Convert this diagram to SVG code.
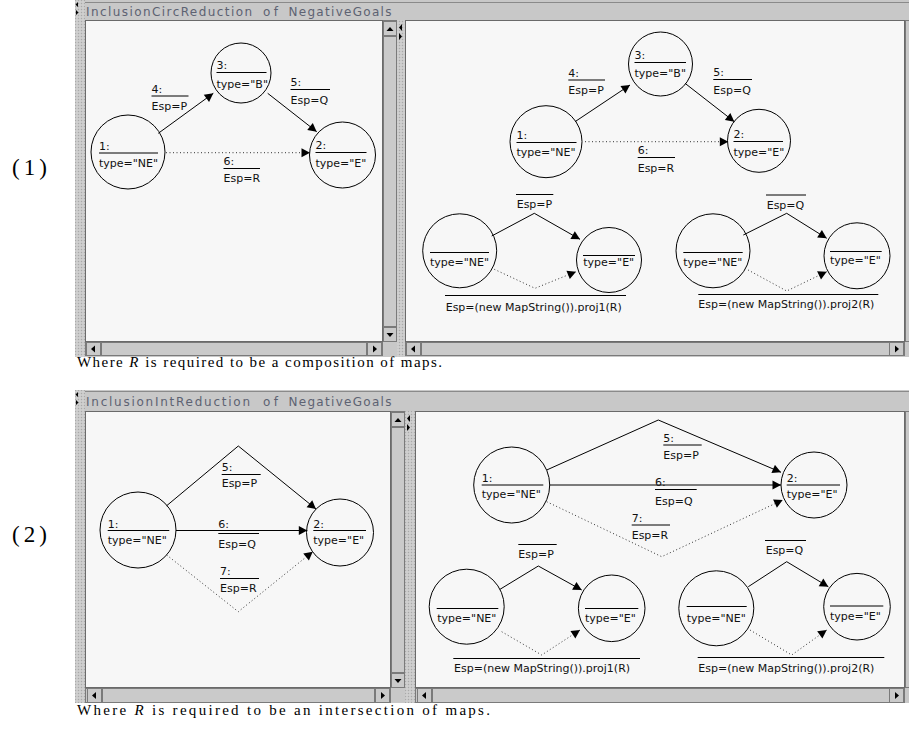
<svg xmlns="http://www.w3.org/2000/svg" width="909" height="731" viewBox="0 0 909 731">
<style>
.win{fill:#c8c8c8}
.pan{fill:#f7f7f7;stroke:#6a6a6a;stroke-width:1}
.spl{fill:url(#dots)}
.trk{fill:#c8c8c8;stroke:#7a7a7a;stroke-width:1}
.btn{fill:#cacaca;stroke:#7a7a7a;stroke-width:1}
.arr{fill:#000}
.ttl{font-family:"DejaVu Sans",sans-serif;font-size:12px;fill:#5d6272}
.cap{font-family:"Liberation Serif",serif;font-size:15px;fill:#000}
.num{font-family:"Liberation Serif",serif;font-size:23px;fill:#000}
.t{font-family:"DejaVu Sans",sans-serif;font-size:11px;fill:#111}
.c{fill:none;stroke:#000;stroke-width:1}
.u{stroke:#000;stroke-width:1}
.s{fill:none;stroke:#000;stroke-width:1;marker-end:url(#ah)}
.d{fill:none;stroke:#333;stroke-width:1;stroke-dasharray:1 2.5;marker-end:url(#ah)}
</style>
<defs>
<pattern id="dots" width="3" height="3" patternUnits="userSpaceOnUse">
<rect width="3" height="3" fill="#c9c9c9"/>
<rect x="0" y="0" width="1" height="1" fill="#a9a9a9"/>
<rect x="1.5" y="1.5" width="1" height="1" fill="#e2e2e2"/>
</pattern>
<marker id="ah" markerWidth="10" markerHeight="10" refX="9" refY="5" orient="auto" markerUnits="userSpaceOnUse">
<path d="M0.5,0.5 L9,5 L0.5,9.5 Z" fill="#000"/>
</marker>
</defs>
<rect width="909" height="731" fill="#ffffff"/>

<!-- ================= Window 1 chrome ================= -->
<g id="window1">
<rect class="win" x="75" y="0" width="834" height="357"/>
<line x1="85" y1="2.5" x2="909" y2="2.5" stroke="#8a8a8a"/>
<rect class="spl" x="75" y="0" width="10" height="357"/>
<path class="arr" d="M78,2 L75.5,4.5 L78,7 Z M76,10 L78.5,12.5 L76,15 Z"/>
<text class="ttl"><tspan x="86" y="15.5" textLength="166" lengthAdjust="spacing">InclusionCircReduction</tspan><tspan x="263" y="15.5" textLength="15" lengthAdjust="spacing">of</tspan><tspan x="288.5" y="15.5" textLength="103" lengthAdjust="spacing">NegativeGoals</tspan></text>
<rect class="pan" x="85.5" y="20.5" width="297" height="321"/>
<rect class="trk" x="383.5" y="20.5" width="13" height="321"/>
<rect class="btn" x="383.5" y="21.5" width="13" height="14"/>
<path class="arr" d="M386.5,31 L393.5,31 L390,27 Z"/>
<rect class="btn" x="383.5" y="36.5" width="13" height="290"/>
<rect class="btn" x="383.5" y="327.5" width="13" height="14"/>
<path class="arr" d="M386.5,333 L393.5,333 L390,337 Z"/>
<rect class="trk" x="85.5" y="342.5" width="297" height="13"/>
<rect class="btn" x="86.5" y="342.5" width="14" height="13"/>
<path class="arr" d="M95,345.5 L91,349 L95,352.5 Z"/>
<rect class="btn" x="101.5" y="342.5" width="265" height="13"/>
<rect class="btn" x="367.5" y="342.5" width="14" height="13"/>
<path class="arr" d="M373,345.5 L377,349 L373,352.5 Z"/>
<rect class="spl" x="397" y="20" width="8" height="337"/>
<path class="arr" d="M402,24 L399,27.5 L402,31 Z M399,33 L402,36.5 L399,40 Z"/>
<rect class="pan" x="405.5" y="20.5" width="499" height="321"/>
<rect class="trk" x="905.5" y="20.5" width="5" height="321"/>
<rect class="trk" x="405.5" y="342.5" width="499" height="13"/>
<rect class="btn" x="406.5" y="342.5" width="14" height="13"/>
<path class="arr" d="M415,345.5 L411,349 L415,352.5 Z"/>
<rect class="btn" x="421.5" y="342.5" width="468" height="13"/>
<rect class="btn" x="889.5" y="342.5" width="14" height="13"/>
<path class="arr" d="M895,345.5 L899,349 L895,352.5 Z"/>
</g>

<!-- ================= Window 2 chrome ================= -->
<g id="window2">
<rect class="win" x="75" y="390" width="834" height="313"/>
<line x1="85" y1="391.5" x2="909" y2="391.5" stroke="#8a8a8a"/>
<rect class="spl" x="75" y="390" width="10" height="313"/>
<path class="arr" d="M78,392 L75.5,394.5 L78,397 Z M76,400 L78.5,402.5 L76,405 Z"/>
<text class="ttl"><tspan x="86" y="405.5" textLength="164" lengthAdjust="spacing">InclusionIntReduction</tspan><tspan x="263" y="405.5" textLength="15" lengthAdjust="spacing">of</tspan><tspan x="288.5" y="405.5" textLength="103" lengthAdjust="spacing">NegativeGoals</tspan></text>
<rect class="pan" x="85.5" y="411.5" width="305" height="276"/>
<rect class="trk" x="391.5" y="411.5" width="13" height="276"/>
<rect class="btn" x="391.5" y="412.5" width="13" height="14"/>
<path class="arr" d="M394.5,422 L401.5,422 L398,418 Z"/>
<rect class="btn" x="391.5" y="427.5" width="13" height="245"/>
<rect class="btn" x="391.5" y="673.5" width="13" height="14"/>
<path class="arr" d="M394.5,679 L401.5,679 L398,683 Z"/>
<rect class="trk" x="85.5" y="688.5" width="305" height="14"/>
<rect class="btn" x="87.5" y="688.5" width="14" height="14"/>
<path class="arr" d="M96,692 L92,695.5 L96,699 Z"/>
<rect class="btn" x="102.5" y="688.5" width="272" height="14"/>
<rect class="btn" x="375.5" y="688.5" width="14" height="14"/>
<path class="arr" d="M381,692 L385,695.5 L381,699 Z"/>
<rect class="spl" x="405" y="411" width="10" height="292"/>
<path class="arr" d="M410,415 L407,418.5 L410,422 Z M407,424 L410,427.5 L407,431 Z"/>
<rect class="pan" x="415.5" y="411.5" width="489" height="276"/>
<rect class="trk" x="905.5" y="411.5" width="5" height="276"/>
<rect class="trk" x="415.5" y="688.5" width="489" height="14"/>
<rect class="btn" x="417.5" y="688.5" width="14" height="14"/>
<path class="arr" d="M426,692 L422,695.5 L426,699 Z"/>
<rect class="btn" x="432.5" y="688.5" width="457" height="14"/>
<rect class="btn" x="889.5" y="688.5" width="14" height="14"/>
<path class="arr" d="M895,692 L899,695.5 L895,699 Z"/>
</g>

<!-- ================= Labels / captions ================= -->
<text class="num" x="12" y="175" textLength="35" lengthAdjust="spacing">(1)</text>
<text class="num" x="12" y="542" textLength="35" lengthAdjust="spacing">(2)</text>
<text class="cap" x="77" y="367" textLength="365" lengthAdjust="spacing">Where <tspan font-style="italic">R</tspan> is required to be a composition of maps.</text>
<text class="cap" x="77" y="715" textLength="413" lengthAdjust="spacing">Where <tspan font-style="italic">R</tspan> is required to be an intersection of maps.</text>

<!-- ================= Diagram 1 left ================= -->
<g id="d1L-nodes">
<g id="d1L-n1"><circle class="c" cx="128" cy="152" r="37"/><text class="t" x="99" y="149.5">1:</text><line class="u" x1="99" y1="153" x2="158" y2="153"/><text class="t" x="99" y="166.5">type="NE"</text></g>
<g id="d1L-n3"><circle class="c" cx="241" cy="73" r="30"/><text class="t" x="216.5" y="69">3:</text><line class="u" x1="216.5" y1="72.5" x2="266.5" y2="72.5"/><text class="t" x="216.5" y="87.5">type="B"</text></g>
<g id="d1L-n2"><circle class="c" cx="342.5" cy="155" r="33"/><text class="t" x="315.5" y="149">2:</text><line class="u" x1="315.5" y1="152.5" x2="366.5" y2="152.5"/><text class="t" x="315.5" y="166.5">type="E"</text></g>
</g>
<g id="d1L-edges">
<path class="s" d="M158.3,133.3 L213.3,93.3"/>
<text class="t" x="151.5" y="93">4:</text><line class="u" x1="151.5" y1="96" x2="188.5" y2="96"/><text class="t" x="151.5" y="110">Esp=P</text>
<path class="s" d="M267.7,93.3 L316.7,131.7"/>
<text class="t" x="290.5" y="86">5:</text><line class="u" x1="290.5" y1="89.5" x2="330" y2="89.5"/><text class="t" x="290.5" y="103.5">Esp=Q</text>
<path class="d" d="M166,152.7 L310,152.7"/>
<text class="t" x="223.5" y="165">6:</text><line class="u" x1="223.5" y1="168.5" x2="260" y2="168.5"/><text class="t" x="223.5" y="182">Esp=R</text>
</g>

<!-- ================= Diagram 1 right ================= -->
<g id="d1R-nodes">
<g id="d1R-n1"><circle class="c" cx="546" cy="141.7" r="36"/><text class="t" x="516.5" y="138.5">1:</text><line class="u" x1="516.5" y1="142.5" x2="576.5" y2="142.5"/><text class="t" x="516.5" y="155.5">type="NE"</text></g>
<g id="d1R-n3"><circle class="c" cx="660.5" cy="64" r="32"/><text class="t" x="634.5" y="59">3:</text><line class="u" x1="634.5" y1="62.5" x2="686" y2="62.5"/><text class="t" x="634.5" y="76.5">type="B"</text></g>
<g id="d1R-n2"><circle class="c" cx="759" cy="140.8" r="31.5"/><text class="t" x="733.5" y="138">2:</text><line class="u" x1="733.5" y1="141.5" x2="783" y2="141.5"/><text class="t" x="733.5" y="155.5">type="E"</text></g>
<g id="d1R-a1"><circle class="c" cx="459.7" cy="250.8" r="37"/><line class="u" x1="430" y1="252.5" x2="489" y2="252.5"/><text class="t" x="430" y="266">type="NE"</text></g>
<g id="d1R-a2"><circle class="c" cx="609" cy="260" r="32.5"/><line class="u" x1="583" y1="255.5" x2="635" y2="255.5"/><text class="t" x="583.3" y="266">type="E"</text></g>
<g id="d1R-b1"><circle class="c" cx="713" cy="250.8" r="37"/><line class="u" x1="683.3" y1="252.5" x2="742.7" y2="252.5"/><text class="t" x="683.3" y="266">type="NE"</text></g>
<g id="d1R-b2"><circle class="c" cx="857" cy="255.8" r="33"/><line class="u" x1="830" y1="251.5" x2="881.7" y2="251.5"/><text class="t" x="830" y="264">type="E"</text></g>
</g>
<g id="d1R-edges">
<path class="s" d="M575,121.7 L630,85"/>
<text class="t" x="568.3" y="76.5">4:</text><line class="u" x1="568.3" y1="80" x2="605" y2="80"/><text class="t" x="568.3" y="93.5">Esp=P</text>
<path class="s" d="M685,83.3 L734.3,121.7"/>
<text class="t" x="713.3" y="76">5:</text><line class="u" x1="713.3" y1="79.5" x2="752" y2="79.5"/><text class="t" x="713.3" y="94">Esp=Q</text>
<path class="d" d="M585,141.7 L728.3,141.7"/>
<text class="t" x="637.7" y="154">6:</text><line class="u" x1="637.7" y1="157.5" x2="675" y2="157.5"/><text class="t" x="637.7" y="171.5">Esp=R</text>
<path class="s" d="M491.7,236 L534.3,213.3 L580,239.3"/>
<line class="u" x1="516" y1="194.5" x2="553.3" y2="194.5"/><text class="t" x="516.7" y="208.3">Esp=P</text>
<path class="d" d="M494.3,269.3 L535,288.3 L576,271.7"/>
<line class="u" x1="445" y1="295.5" x2="626" y2="295.5"/><text class="t" x="445.7" y="310.5">Esp=(new MapString()).proj1(R)</text>
<path class="s" d="M743.3,235 L786.7,213.3 L826.7,238.3"/>
<line class="u" x1="766" y1="195" x2="806" y2="195"/><text class="t" x="766.7" y="209.3">Esp=Q</text>
<path class="d" d="M745,268.3 L786.7,291 L826.7,271.7"/>
<line class="u" x1="698.3" y1="294.5" x2="878.3" y2="294.5"/><text class="t" x="698.3" y="308.3">Esp=(new MapString()).proj2(R)</text>
</g>

<!-- ================= Diagram 2 left ================= -->
<g id="d2L-nodes">
<g id="d2L-n1"><circle class="c" cx="138" cy="530" r="38"/><text class="t" x="107.7" y="527.5">1:</text><line class="u" x1="107.7" y1="530.5" x2="169.3" y2="530.5"/><text class="t" x="107.7" y="544.3">type="NE"</text></g>
<g id="d2L-n2"><circle class="c" cx="340" cy="532.5" r="33.5"/><text class="t" x="313.3" y="527.5">2:</text><line class="u" x1="313.3" y1="530.5" x2="366" y2="530.5"/><text class="t" x="313.3" y="544.3">type="E"</text></g>
</g>
<g id="d2L-edges">
<path class="s" d="M166.7,505.7 L238.3,446 L316,509"/>
<text class="t" x="221.7" y="471">5:</text><line class="u" x1="221.7" y1="474.5" x2="260.7" y2="474.5"/><text class="t" x="221.7" y="487">Esp=P</text>
<path class="s" d="M176,530.5 L307.3,530.5"/>
<text class="t" x="218.3" y="528">6:</text><line class="u" x1="218.3" y1="533.5" x2="259" y2="533.5"/><text class="t" x="218.3" y="548">Esp=Q</text>
<path class="d" d="M166.7,555 L238.3,611.7 L312.7,551.7"/>
<text class="t" x="220" y="575">7:</text><line class="u" x1="220" y1="578.5" x2="259" y2="578.5"/><text class="t" x="220" y="591.7">Esp=R</text>
</g>

<!-- ================= Diagram 2 right ================= -->
<g id="d2R-nodes">
<g id="d2R-n1"><circle class="c" cx="511.7" cy="485" r="38"/><text class="t" x="481.7" y="481.5">1:</text><line class="u" x1="481.7" y1="485" x2="543.3" y2="485"/><text class="t" x="481.7" y="498.3">type="NE"</text></g>
<g id="d2R-n2"><circle class="c" cx="814" cy="485" r="33"/><text class="t" x="786.7" y="481.5">2:</text><line class="u" x1="786.7" y1="485" x2="840" y2="485"/><text class="t" x="786.7" y="498.3">type="E"</text></g>
<g id="d2R-a1"><circle class="c" cx="466.7" cy="606.7" r="37.5"/><line class="u" x1="436.7" y1="608.5" x2="498.3" y2="608.5"/><text class="t" x="437.3" y="622.3">type="NE"</text></g>
<g id="d2R-a2"><circle class="c" cx="611.7" cy="608.3" r="33.3"/><line class="u" x1="585" y1="608.5" x2="638.3" y2="608.5"/><text class="t" x="585" y="622.3">type="E"</text></g>
<g id="d2R-b1"><circle class="c" cx="716.3" cy="608.3" r="37.5"/><line class="u" x1="686.7" y1="606.5" x2="746.7" y2="606.5"/><text class="t" x="686.7" y="621.7">type="NE"</text></g>
<g id="d2R-b2"><circle class="c" cx="857" cy="606.7" r="33.3"/><line class="u" x1="830" y1="606" x2="883.3" y2="606"/><text class="t" x="830" y="620">type="E"</text></g>
</g>
<g id="d2R-edges">
<path class="s" d="M546.7,470 L658.3,420 L781,472.3"/>
<text class="t" x="663.3" y="441.5">5:</text><line class="u" x1="663.3" y1="445" x2="701.7" y2="445"/><text class="t" x="663.3" y="459">Esp=P</text>
<path class="s" d="M550,485 L781,485"/>
<text class="t" x="655" y="485.5">6:</text><line class="u" x1="655" y1="489.5" x2="696.7" y2="489.5"/><text class="t" x="655" y="505">Esp=Q</text>
<path class="d" d="M546.7,501.7 L661.7,556.7 L782.7,500"/>
<text class="t" x="631.7" y="521.5">7:</text><line class="u" x1="631.7" y1="525" x2="670" y2="525"/><text class="t" x="631.7" y="539">Esp=R</text>
<path class="s" d="M500,589.3 L538.3,566 L581.7,590"/>
<line class="u" x1="518.3" y1="544.5" x2="556.7" y2="544.5"/><text class="t" x="518.3" y="557.5">Esp=P</text>
<path class="d" d="M501.7,631.7 L541.7,655 L580,630"/>
<line class="u" x1="453.3" y1="658.5" x2="640" y2="658.5"/><text class="t" x="454" y="672.3">Esp=(new MapString()).proj1(R)</text>
<path class="s" d="M748.3,586.7 L786.7,561.7 L828.3,586.7"/>
<line class="u" x1="765" y1="540.5" x2="806" y2="540.5"/><text class="t" x="765.7" y="554">Esp=Q</text>
<path class="d" d="M750,630 L791.7,655 L826.7,630"/>
<line class="u" x1="697.7" y1="657.5" x2="884.3" y2="657.5"/><text class="t" x="698.3" y="671.7">Esp=(new MapString()).proj2(R)</text>
</g>
</svg>
